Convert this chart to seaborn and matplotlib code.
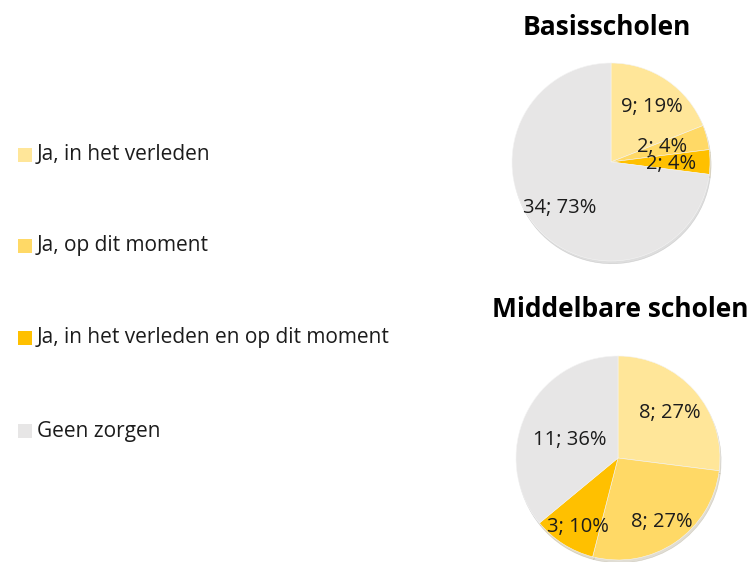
import matplotlib
matplotlib.use("Agg")
import matplotlib.pyplot as plt
import matplotlib.patches as mpatches
import seaborn as sns

sns.set_theme(style="white")
plt.rcParams['font.family'] = ['Open Sans', 'DejaVu Sans']

categories = ["Ja, in het verleden", "Ja, op dit moment",
              "Ja, in het verleden en op dit moment", "Geen zorgen"]
basis_counts = [9, 2, 2, 34]
basis_pct = [19, 4, 4, 73]
middelbaar_counts = [8, 8, 3, 11]
middelbaar_pct = [27, 27, 10, 36]
titles = ["Basisscholen", "Middelbare scholen"]

colors = ["#FFE699", "#FFD966", "#FFC000", "#E7E6E6"]

W, H = 754, 562
fig = plt.figure(figsize=(W / 100, H / 100), dpi=100)


def px_axes(cx, cy, r):
    return fig.add_axes([(cx - r) / W, 1 - (cy + r) / H, 2 * r / W, 2 * r / H])


def draw_pie(ax, pct):
    ax.pie(pct, colors=colors, startangle=90, counterclock=False,
           wedgeprops=dict(linewidth=0.4, edgecolor="#f4f4f4"),
           shadow=dict(ox=0.008, oy=-0.02, shade=0.6, alpha=0.2))
    ax.set_xlim(-1, 1)
    ax.set_ylim(-1, 1)
    ax.axis("off")


def add_labels(ax, pos, counts, pct):
    for (x, y), c, p in zip(pos, counts, pct):
        ax.text(x, y, f"{c}; {p}%", ha="center", va="center",
                fontsize=14.5, color="#1c1c1c")


# Basisscholen
ax1 = px_axes(611, 162, 99)
draw_pie(ax1, basis_pct)
add_labels(ax1, [(0.41, 0.56), (0.52, 0.15), (0.61, -0.02), (-0.52, -0.46)],
           basis_counts, basis_pct)
fig.text(607 / W, 1 - 35 / H, titles[0], ha="center", va="baseline",
         fontsize=19, fontweight="bold", color="black")

# Middelbare scholen
ax2 = px_axes(618, 458, 102)
draw_pie(ax2, middelbaar_pct)
add_labels(ax2, [(0.51, 0.44), (0.43, -0.63), (-0.39, -0.68), (-0.47, 0.18)],
           middelbaar_counts, middelbaar_pct)
fig.text(620 / W, 1 - 317 / H, titles[1], ha="center", va="baseline",
         fontsize=19, fontweight="bold", color="black")

# legend (left column)
legend_y = [155, 246, 338, 431]
for c, l, y in zip(colors, categories, legend_y):
    fig.patches.append(mpatches.Rectangle((18 / W, 1 - (y + 7) / H), 14 / W, 14 / H,
                                          transform=fig.transFigure,
                                          facecolor=c, edgecolor="none"))
    fig.text(37 / W, 1 - y / H, l, ha="left", va="center",
             fontsize=15, color="#1c1c1c")

fig.savefig("out.png", dpi=100, facecolor="white")
